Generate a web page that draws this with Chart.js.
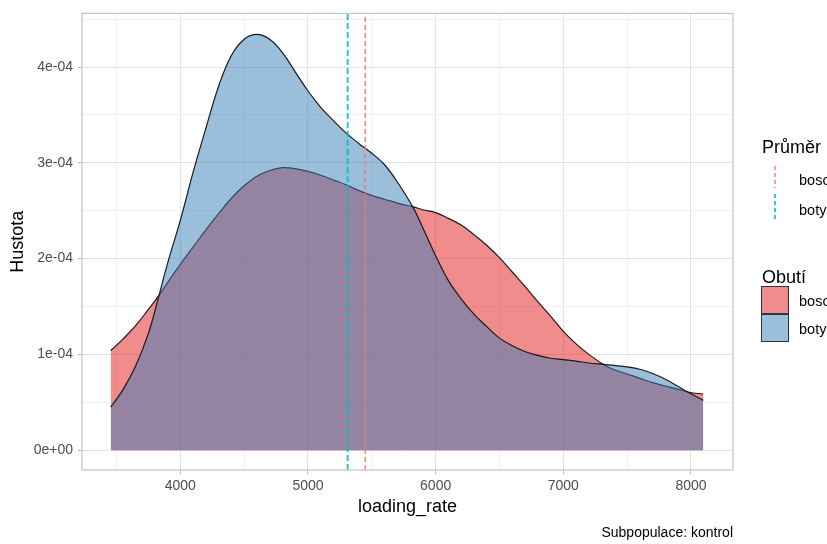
<!DOCTYPE html>
<html><head><meta charset="utf-8">
<script src="https://cdn.jsdelivr.net/npm/chart.js@4"></script>
<style>
html,body{margin:0;padding:0;width:827px;height:544px;overflow:hidden;background:#fff;font-family:"Liberation Sans",Arial,sans-serif;}
#wrap{position:absolute;left:0;top:0;width:827px;height:544px;}
.t{position:absolute;white-space:nowrap;line-height:1;color:#000;}
.box{position:absolute;box-sizing:border-box;border:1.3px solid #333;}
</style></head><body>
<div id="wrap"><canvas id="c"></canvas></div>

<div class="t" style="left:762px;top:138px;font-size:18px;">Průměr</div>
<svg style="position:absolute;left:760px;top:160px" width="30" height="70">
  <line x1="15" y1="6" x2="15" y2="28" stroke="rgba(248,118,109,0.9)" stroke-width="1.5" stroke-dasharray="4,3"/>
  <line x1="15" y1="34" x2="15" y2="60" stroke="rgba(0,191,196,0.9)" stroke-width="1.8" stroke-dasharray="4,3"/>
</svg>
<div class="t" style="left:799px;top:173px;font-size:14.5px;">boso</div>
<div class="t" style="left:799px;top:203px;font-size:14.5px;">boty</div>

<div class="t" style="left:762px;top:268px;font-size:18px;">Obutí</div>
<div class="box" style="left:761px;top:286px;width:28px;height:28px;background:rgba(228,26,28,0.5);"></div>
<div class="box" style="left:761px;top:314px;width:28px;height:28px;background:rgba(55,126,184,0.5);"></div>
<div class="t" style="left:799px;top:294px;font-size:14.5px;">boso</div>
<div class="t" style="left:799px;top:322px;font-size:14.5px;">boty</div>

<div class="t" style="right:94px;top:525px;font-size:14px;">Subpopulace: kontrol</div>

<script>
// ---- data ----
const xValues = [3455, 3550, 3650, 3750, 3830, 3900, 4000, 4100, 4200, 4300, 4400, 4500, 4600, 4700, 4800, 4900,
  5000, 5100, 5200, 5300, 5400, 5500, 5600, 5700, 5825, 5900, 6000, 6100, 6200, 6300, 6400, 6500,
  6600, 6700, 6800, 6900, 7000, 7100, 7200, 7320, 7400, 7500, 7600, 7700, 7800, 7900, 7985, 8096];

const botyDensity = [0.45e-4, 0.63e-4, 0.88e-4, 1.22e-4, 1.60e-4, 1.95e-4, 2.40e-4, 2.90e-4, 3.36e-4, 3.80e-4, 4.12e-4, 4.29e-4, 4.34e-4, 4.29e-4, 4.15e-4, 3.95e-4,
  3.75e-4, 3.58e-4, 3.44e-4, 3.31e-4, 3.20e-4, 3.10e-4, 2.98e-4, 2.80e-4, 2.53e-4, 2.32e-4, 2.03e-4, 1.77e-4, 1.58e-4, 1.42e-4, 1.29e-4, 1.17e-4,
  1.09e-4, 1.03e-4, 0.99e-4, 0.96e-4, 0.945e-4, 0.93e-4, 0.91e-4, 0.895e-4, 0.885e-4, 0.87e-4, 0.845e-4, 0.80e-4, 0.74e-4, 0.665e-4, 0.60e-4, 0.52e-4];

const bosoDensity = [1.04e-4, 1.16e-4, 1.30e-4, 1.47e-4, 1.61e-4, 1.75e-4, 1.94e-4, 2.12e-4, 2.30e-4, 2.47e-4, 2.63e-4, 2.76e-4, 2.86e-4, 2.92e-4, 2.95e-4, 2.94e-4,
  2.91e-4, 2.87e-4, 2.82e-4, 2.77e-4, 2.71e-4, 2.66e-4, 2.62e-4, 2.58e-4, 2.54e-4, 2.51e-4, 2.48e-4, 2.42e-4, 2.35e-4, 2.25e-4, 2.14e-4, 2.01e-4,
  1.86e-4, 1.71e-4, 1.55e-4, 1.40e-4, 1.24e-4, 1.11e-4, 1.00e-4, 0.89e-4, 0.84e-4, 0.795e-4, 0.75e-4, 0.705e-4, 0.67e-4, 0.635e-4, 0.605e-4, 0.585e-4];

const meanBoty = 5311;
const meanBoso = 5449;

const xMajorTicks = [4000, 5000, 6000, 7000, 8000];
const xMinorTicks = [3500, 4500, 5500, 6500, 7500];
const yMajorTicks = [0, 1e-4, 2e-4, 3e-4, 4e-4];
const yTickLabels = ["0e+00", "1e-04", "2e-04", "3e-04", "4e-04"];
const yMinorTicks = [0.5e-4, 1.5e-4, 2.5e-4, 3.5e-4, 4.5e-4];
const xLimits = [3230, 8329];
const yLimits = [-0.207e-4, 4.56e-4];

// ---- build ----
const FONT = "'Liberation Sans', Arial, sans-serif";
const toPts = ys => xValues.map((x, i) => ({x: x, y: ys[i]}));
const isMajorX = v => xMajorTicks.indexOf(v) >= 0;
const isMajorY = v => yMajorTicks.some(t => Math.abs(t - v) < 1e-9);

const panelBorder = {
  id: 'panelBorder',
  afterDatasetsDraw(chart) {
    const {ctx, chartArea: a} = chart;
    ctx.save();
    ctx.strokeStyle = '#C4C4C4';
    ctx.lineWidth = 1.2;
    ctx.strokeRect(a.left, a.top, a.right - a.left, a.bottom - a.top);
    ctx.restore();
  }
};

new Chart(document.getElementById('c'), {
  type: 'line',
  data: {
    datasets: [
      {label: 'mean boty', data: [{x: meanBoty, y: yLimits[0]}, {x: meanBoty, y: yLimits[1]}],
       borderColor: 'rgba(0,191,196,0.85)', borderWidth: 2, borderDash: [6, 3], pointRadius: 0, fill: false, tension: 0},
      {label: 'mean boso', data: [{x: meanBoso, y: yLimits[0]}, {x: meanBoso, y: yLimits[1]}],
       borderColor: 'rgba(248,118,109,0.9)', borderWidth: 1.5, borderDash: [5, 3], pointRadius: 0, fill: false, tension: 0},
      {label: 'boty', data: toPts(botyDensity), fill: 'origin',
       backgroundColor: 'rgba(55,126,184,0.5)', borderColor: '#1a1a1a', borderWidth: 1.2,
       pointRadius: 0, tension: 0.4},
      {label: 'boso', data: toPts(bosoDensity), fill: 'origin',
       backgroundColor: 'rgba(228,26,28,0.5)', borderColor: '#1a1a1a', borderWidth: 1.2,
       pointRadius: 0, tension: 0.4}
    ]
  },
  options: {
    responsive: true,
    maintainAspectRatio: false,
    animation: false,
    events: [],
    layout: {padding: {left: 0, right: 94, top: 9, bottom: 26}},
    plugins: {legend: {display: false}, tooltip: {enabled: false}},
    scales: {
      x: {
        type: 'linear', min: xLimits[0], max: xLimits[1],
        afterBuildTicks: s => { s.ticks = xMinorTicks.concat(xMajorTicks).sort((a, b) => a - b).map(v => ({value: v})); },
        afterFit: s => { s.height = 48; },
        ticks: {autoSkip: false, maxRotation: 0, padding: 4, color: '#4D4D4D', font: {family: FONT, size: 14},
                callback: v => isMajorX(v) ? String(v) : ''},
        grid: {color: c => isMajorX(c.tick.value) ? '#E2E2E2' : '#F0F0F0', lineWidth: 1, tickLength: 4,
               tickColor: c => isMajorX(c.tick.value) ? '#B3B3B3' : 'rgba(0,0,0,0)'},
        border: {display: false},
        title: {display: true, text: 'loading_rate', color: '#000', font: {family: FONT, size: 18}, padding: {top: 0, bottom: 0}}
      },
      y: {
        type: 'linear', min: yLimits[0], max: yLimits[1],
        afterBuildTicks: s => { s.ticks = yMajorTicks.concat(yMinorTicks).sort((a, b) => a - b).map(v => ({value: v})); },
        afterFit: s => { s.width = 82; },
        ticks: {autoSkip: false, padding: 5, color: '#4D4D4D', font: {family: FONT, size: 14},
                callback: v => { const i = yMajorTicks.findIndex(t => Math.abs(t - v) < 1e-9); return i >= 0 ? yTickLabels[i] : ''; }},
        grid: {color: c => isMajorY(c.tick.value) ? '#E2E2E2' : '#F0F0F0', lineWidth: 1, tickLength: 4,
               tickColor: c => isMajorY(c.tick.value) ? '#B3B3B3' : 'rgba(0,0,0,0)'},
        border: {display: false},
        title: {display: true, text: 'Hustota', color: '#000', font: {family: FONT, size: 18}, padding: {top: 7, bottom: 0}}
      }
    }
  },
  plugins: [panelBorder]
});
</script>
</body></html>
